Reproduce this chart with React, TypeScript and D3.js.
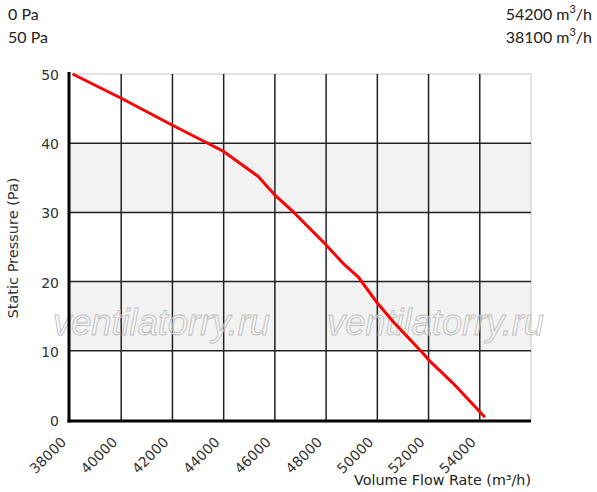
import React from "react";
import * as d3 from "d3";

const flow = [38100, 40000, 42000, 43530, 44000, 45350, 46000, 46710, 48000, 48670, 49250, 50000, 50620, 51790, 52000, 52960, 54200];
const pressure = [50, 46.5, 42.6, 39.7, 38.8, 35.2, 32.5, 30.1, 25.3, 22.6, 20.7, 16.9, 14.2, 9.6, 8.7, 5.3, 0.4];
const xTicks = [38000, 40000, 42000, 44000, 46000, 48000, 50000, 52000, 54000];
const yTicks = [0, 10, 20, 30, 40, 50];
const infoLeft = ["0 Pa", "50 Pa"];
const infoRight = ["54200", "38100"];

export default function App() {
  const W = 597, H = 492;
  const x = d3.scaleLinear().domain([38000, 56000]).range([70, 531]);
  const y = d3.scaleLinear().domain([0, 50]).range([420, 74]);
  const line = d3.line<number>().x((_, i) => x(flow[i])).y((d) => y(d)).curve(d3.curveLinear);
  const tickFont = "'DejaVu Sans', Verdana, sans-serif";
  const infoFont = "Lato, 'Open Sans', sans-serif";
  const bands = [[10, 20], [30, 40]];
  return (
    <svg width={W} height={H} style={{ position: "absolute", left: 0, top: 0, background: "#fff" }}>
      {/* top info */}
      {infoLeft.map((t, i) => (
        <text key={"l" + i} x={8} y={20 + i * 23} fontFamily={infoFont} fontSize={16} fill="#222">{t}</text>
      ))}
      {infoRight.map((t, i) => (
        <text key={"r" + i} x={592} y={20 + i * 23} fontFamily={infoFont} fontSize={16} fill="#222" textAnchor="end">
          {t} m<tspan dy={-7} fontSize={11}>3</tspan><tspan dy={7}>/h</tspan>
        </text>
      ))}
      {/* bands */}
      {bands.map(([a, b], i) => (
        <rect key={"b" + i} x={x(38000)} y={y(b)} width={x(56000) - x(38000)} height={y(a) - y(b)} fill="#f2f2f2" />
      ))}
      {/* plot border */}
      <line x1={x(38000)} x2={x(56000)} y1={y(50)} y2={y(50)} stroke="#d9d9d9" strokeWidth={1.5} />
      <line x1={x(56000)} x2={x(56000)} y1={y(50)} y2={y(0)} stroke="#d9d9d9" strokeWidth={1.5} />
      {/* grid */}
      {xTicks.slice(1).map((t) => (
        <line key={"gx" + t} x1={x(t)} x2={x(t)} y1={y(50)} y2={y(0)} stroke="#222" strokeWidth={1.5} />
      ))}
      {yTicks.slice(1, -1).map((t) => (
        <line key={"gy" + t} x1={x(38000)} x2={x(56000)} y1={y(t)} y2={y(t)} stroke="#222" strokeWidth={1.5} />
      ))}
      {/* watermark */}
      {[53, 327].map((wx, i) => (
        <text key={"w" + i} x={wx} y={335} fontFamily="'Liberation Sans', Arial, sans-serif" fontStyle="italic" fontSize={36}
          fill="#ffffff" fillOpacity={0.35} stroke="#bdbdbd" strokeWidth={0.9} textLength={217} lengthAdjust="spacingAndGlyphs">ventilatorry.ru</text>
      ))}
      {/* axes */}
      <line x1={x(38000) - 1} x2={x(38000) - 1} y1={y(50) - 2} y2={y(0) + 2.5} stroke="#000" strokeWidth={3} />
      <line x1={x(38000) - 2.5} x2={x(56000)} y1={y(0) + 1} y2={y(0) + 1} stroke="#000" strokeWidth={3} />
      {/* curve */}
      <path d={line(pressure) || ""} fill="none" stroke="#ff0000" strokeWidth={3} strokeLinejoin="round" />
      {/* y ticks */}
      {yTicks.map((t) => (
        <text key={"ty" + t} x={59} y={y(t) + 1} dominantBaseline="central" textAnchor="end" fontFamily={tickFont} fontSize={14} fill="#333">{t}</text>
      ))}
      {/* x ticks */}
      {xTicks.map((t) => (
        <text key={"tx" + t} transform={`translate(${x(t) - 3},${443}) rotate(-45)`} textAnchor="end" fontFamily={tickFont} fontSize={14} fill="#333">{t}</text>
      ))}
      {/* axis titles */}
      <text transform={`translate(18,248) rotate(-90)`} textAnchor="middle" fontFamily={tickFont} fontSize={14.5} fill="#333">Static Pressure (Pa)</text>
      <text x={531} y={485} textAnchor="end" fontFamily={tickFont} fontSize={14.3} fill="#222">Volume Flow Rate (m³/h)</text>
    </svg>
  );
}
